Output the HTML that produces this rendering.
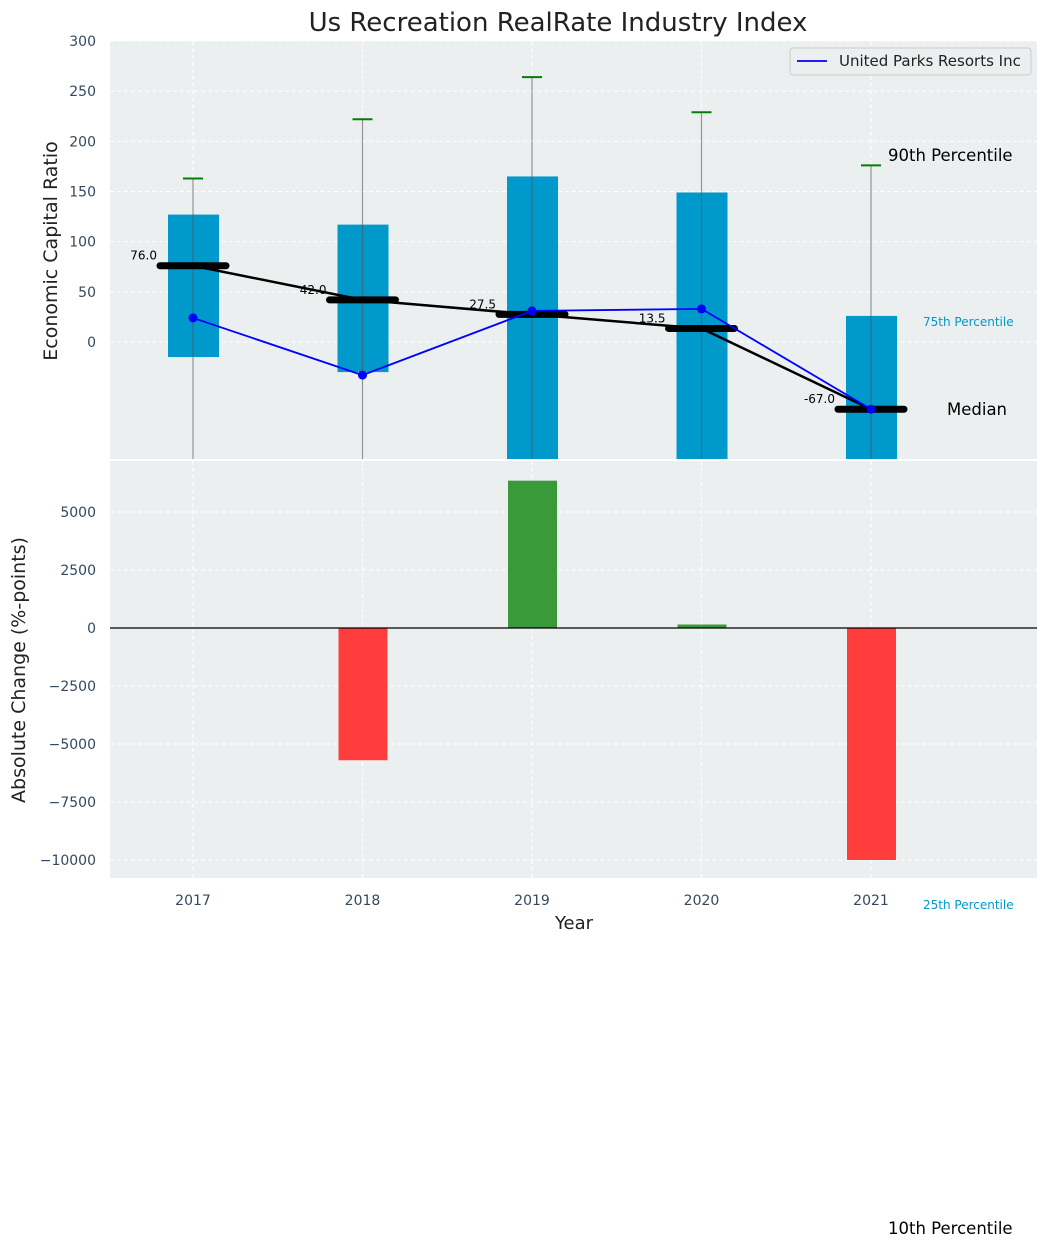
<!DOCTYPE html>
<html><head><meta charset="utf-8"><style>
body{margin:0;background:#fff;font-family:"Liberation Sans","DejaVu Sans",sans-serif;}
svg text{font-family:"DejaVu Sans","Liberation Sans",sans-serif;}
</style></head><body>
<svg id="c" width="1048" height="1248" xmlns="http://www.w3.org/2000/svg"></svg>
<script>
const years=[2017,2018,2019,2020,2021];
const p75=[127,117,165,149,26];
const p25=[-15,-30,-200,-200,-200];
const p90=[163,222,264,229,176];
const p10=[-300,-300,-300,-300,-300];
const medians=[76,42,27.5,13.5,-67];
const company=[24,-33,31,33,-67];
const changes=[0,-5700,6350,150,-10000];
const topTicks=[0,50,100,150,200,250,300];
const botTicks=[-10000,-7500,-5000,-2500,0,2500,5000];
(function(){
const NS="http://www.w3.org/2000/svg";
const svg=document.getElementById('c');
function el(t,a,p){const e=document.createElementNS(NS,t);for(const k in a)e.setAttribute(k,a[k]);(p||svg).appendChild(e);return e;}
const L=110,R=1037;
const X=i=>193+(i)*169.5;
const T0=41,T1=459;
const YT=v=>342-v*(301/300);
const B0=461,B1=878;
const YB=v=>628-v*0.0232;

let g=el('rect',{x:L,y:T0,width:R-L,height:T1-T0,fill:'#ebeff0'});


g=el('rect',{x:L,y:B0,width:R-L,height:B1-B0,fill:'#ebeff0'});


const defs=el('defs',{});
const cp=el('clipPath',{id:'ct'},defs);el('rect',{x:L,y:T0,width:R-L,height:T1-T0},cp);
const cb=el('clipPath',{id:'cb'},defs);el('rect',{x:L,y:B0,width:R-L,height:B1-B0},cb);
const gTop=el('g',{'clip-path':'url(#ct)'});
const gBot=el('g',{'clip-path':'url(#cb)'});

topTicks.forEach(v=>{el('line',{x1:L,x2:R,y1:YT(v),y2:YT(v),stroke:'#fff','stroke-dasharray':'4,3','stroke-width':1},gTop);
 const t=el('text',{x:L-14,y:YT(v)+5,'text-anchor':'end','font-size':14,fill:'#34495e'});t.textContent=v;
 
 });
botTicks.forEach(v=>{el('line',{x1:L,x2:R,y1:YB(v),y2:YB(v),stroke:'#fff','stroke-dasharray':'4,3','stroke-width':1},gBot);
 const t=el('text',{x:L-14,y:YB(v)+5,'text-anchor':'end','font-size':14,fill:'#34495e'});t.textContent=(v<0?'\u2212'+(-v):v);
 
 });
years.forEach((y,i)=>{el('line',{x1:X(i),x2:X(i),y1:T0,y2:T1,stroke:'#fff','stroke-dasharray':'4,3'},gTop);
 el('line',{x1:X(i),x2:X(i),y1:B0,y2:B1,stroke:'#fff','stroke-dasharray':'4,3'},gBot);
 const t=el('text',{x:X(i),y:905,'text-anchor':'middle','font-size':14,fill:'#34495e'});t.textContent=y;
 
 });

years.forEach((y,i)=>{
 const b=el('rect',{x:X(i)-25,y:YT(p75[i]),width:51,height:YT(p25[i])-YT(p75[i]),fill:'#0099cc'},gTop);
 
 
 el('line',{x1:X(i),x2:X(i),y1:YT(p90[i]),y2:YT(p10[i]),stroke:'#555','stroke-opacity':0.6,'stroke-width':1.2},gTop);
 const c=el('line',{x1:X(i)-10,x2:X(i)+10,y1:YT(p90[i]),y2:YT(p90[i]),stroke:'green','stroke-width':2},gTop);
 
 
});
let d=medians.map((m,i)=>(i?'L':'M')+X(i)+','+YT(m)).join('');
g=el('path',{d:d,fill:'none',stroke:'#000','stroke-width':2.5},gTop);


medians.forEach((m,i)=>{const s=el('line',{x1:X(i)-33,x2:X(i)+33,y1:YT(m),y2:YT(m),stroke:'#000','stroke-width':7,'stroke-linecap':'round'},gTop);
 
 
 const t=el('text',{x:X(i)-36,y:YT(m)-6,'text-anchor':'end','font-size':12,fill:'#000'},gTop);t.textContent=m.toFixed(1);
 
 });
d=company.map((m,i)=>(i?'L':'M')+X(i)+','+YT(m)).join('');
g=el('path',{d:d,fill:'none',stroke:'#0000ff','stroke-width':1.8},gTop);


company.forEach((m,i)=>{const c=el('circle',{cx:X(i),cy:YT(m),r:4.5,fill:'#0000ff'},gTop);
 
 });
el('line',{x1:L,x2:R,y1:T1+1,y2:T1+1,stroke:'#fff','stroke-width':2});

changes.forEach((v,i)=>{if(!v)return;const y0=YB(Math.max(v,0)),y1=YB(Math.min(v,0));
 const b=el('rect',{x:X(i)-24,y:y0,width:49,height:y1-y0,fill:v>0?'#3a9a3a':'#ff3d3d'},gBot);
 
 });
el('line',{x1:L,x2:R,y1:YB(0),y2:YB(0),stroke:'#000','stroke-width':1.2},gBot);

g=el('g',{});


el('rect',{x:790,y:48,width:241,height:27,rx:3,fill:'#ebeff0',stroke:'#ccc'},g);
el('line',{x1:797,x2:827,y1:61,y2:61,stroke:'#0000ff','stroke-width':1.8},g);
let lt=el('text',{x:839,y:66,'font-size':15,fill:'#222'},g);lt.textContent='United Parks Resorts Inc';

function txt(x,y,s,size,fill,name,anchor,rot){const a={x:x,y:y,'font-size':size,fill:fill,'text-anchor':anchor||'start'};if(rot)a.transform=rot;const e=el('text',a);e.textContent=s;
 
 
 return e;}
txt(558,31,'Us Recreation RealRate Industry Index',26,'#222','chart-title','middle');
txt(574,929,'Year',18,'#222','x-axis-title','middle');
txt(57,251,'Economic Capital Ratio',19,'#222','y-axis-title','middle','rotate(-90 57 251)');
txt(25,670,'Absolute Change (%-points)',19,'#222','y2-axis-title','middle','rotate(-90 25 670)');
txt(888,161,'90th Percentile',16.5,'#000','p90-annotation');
txt(923,326,'75th Percentile',12,'#0099cc','p75-annotation');
txt(947,415,'Median',16.5,'#000','median-annotation');
txt(923,909,'25th Percentile',12,'#0099cc','p25-annotation');
txt(888,1234,'10th Percentile',16.5,'#000','p10-annotation');
})();
</script>
</body></html>
